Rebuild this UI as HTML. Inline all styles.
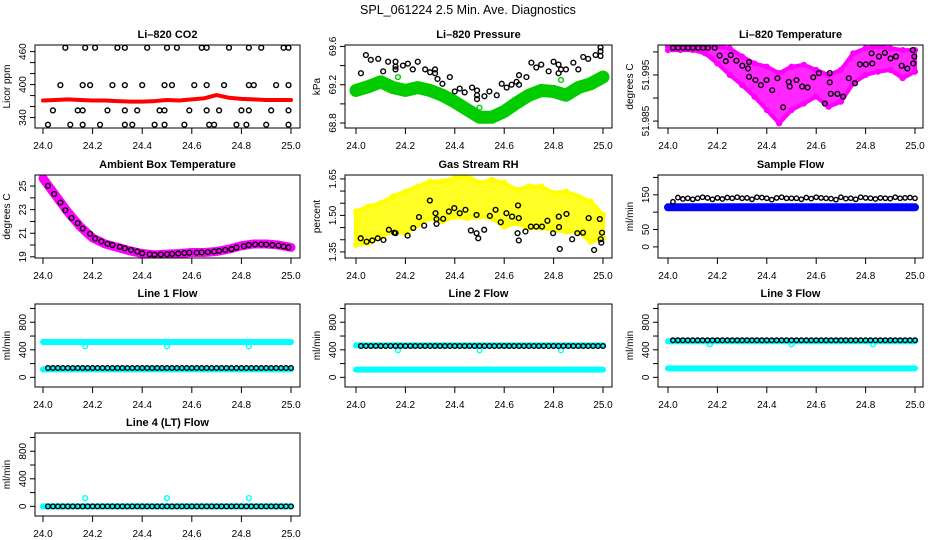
<!DOCTYPE html>
<html><head><meta charset="utf-8"><style>
html,body{margin:0;padding:0;background:#fff}
svg{display:block;font-family:"Liberation Sans",sans-serif}
</style></head><body>
<svg id="chart" width="936" height="540" viewBox="0 0 936 540" xmlns="http://www.w3.org/2000/svg">
<text x="468" y="14" text-anchor="middle" font-size="12.5">SPL_061224  2.5 Min. Ave. Diagnostics</text>
</svg>
<script>
// ---- data ----
const T21=[24.0,24.05,24.1,24.15,24.2,24.25,24.3,24.35,24.4,24.45,24.5,24.55,24.6,24.65,24.7,24.75,24.8,24.85,24.9,24.95,25.0];
const xTickVals=[24.0,24.2,24.4,24.6,24.8,25.0];
const xTickLabels=["24.0","24.2","24.4","24.6","24.8","25.0"];
// CO2
const co2RedVals=[371,372,373,372,371,371,370,369,369,370,372,371,373,375,381,376,374,373,372,372,372];
const co2BlackTimes=[24.09,24.17,24.21,24.30,24.33,24.42,24.50,24.54,24.64,24.66,24.75,24.83,24.88,24.97,24.99,
24.07,24.16,24.19,24.28,24.33,24.40,24.49,24.52,24.61,24.66,24.73,24.83,24.85,24.94,24.99,
24.04,24.14,24.16,24.26,24.33,24.38,24.47,24.49,24.59,24.66,24.71,24.80,24.83,24.92,24.99,
24.02,24.11,24.16,24.23,24.33,24.36,24.45,24.49,24.57,24.67,24.69,24.78,24.82,24.90,24.99];
const co2BlackVals=[467,467,467,467,467,467,467,467,467,467,467,467,467,467,467,
399,399,399,399,399,399,399,399,399,399,399,399,399,399,399,
353,353,353,353,353,353,353,353,353,353,353,353,353,353,353,
327,327,327,327,327,327,327,327,327,327,327,327,327,327,327];
// Pressure
const presGreenVals=[69.14,69.18,69.23,69.17,69.14,69.17,69.14,69.09,69.02,68.94,68.86,68.86,68.92,69.01,69.09,69.14,69.13,69.09,69.17,69.21,69.28];
const presGreenOutTimes=[24.17,24.5,24.83];
const presGreenOutVals=[69.28,68.96,69.25];
const presBlackTimes=[24.02,24.04,24.06,24.09,24.11,24.13,24.16,24.16,24.16,24.19,24.21,24.23,24.25,24.28,24.30,24.32,24.32,24.33,24.35,24.38,24.40,24.42,24.44,24.47,24.49,24.49,24.49,24.52,24.54,24.57,24.59,24.61,24.63,24.65,24.66,24.66,24.69,24.71,24.73,24.75,24.78,24.80,24.82,24.82,24.83,24.85,24.88,24.90,24.92,24.94,24.97,24.99,24.99,24.99];
const presBlackVals=[69.32,69.51,69.46,69.47,69.34,69.44,69.44,69.39,69.36,69.40,69.42,69.36,69.44,69.36,69.33,69.36,69.32,69.26,69.21,69.28,69.13,69.16,69.12,69.17,69.14,69.05,69.09,69.08,69.13,69.09,69.21,69.17,69.20,69.23,69.30,69.20,69.28,69.43,69.38,69.41,69.34,69.44,69.41,69.32,69.36,69.36,69.43,69.36,69.49,69.47,69.51,69.55,69.59,69.50];
// Licor temperature
const tempMagHi=[52.0012,52.0012,52.0012,52.0012,52.0012,52.0008,51.9990,51.9975,51.9968,51.9954,51.9968,51.9972,51.9961,51.9950,51.9961,51.9997,52.0008,52.0012,52.0008,52.0004,52.0004];
const tempMagLo=[52.0004,52.0004,52.0004,51.9997,51.9975,51.9950,51.9928,51.9903,51.9874,51.9845,51.9874,51.9888,51.9903,51.9881,51.9892,51.9932,51.9950,51.9957,51.9961,51.9943,51.9957];
const tempBlackTimes=[24.020,24.041,24.061,24.081,24.101,24.122,24.142,24.162,24.189,24.209,24.234,24.254,24.277,24.301,24.324,24.328,24.328,24.354,24.376,24.399,24.422,24.443,24.466,24.489,24.493,24.520,24.543,24.565,24.588,24.611,24.635,24.655,24.655,24.659,24.686,24.709,24.732,24.757,24.777,24.801,24.824,24.827,24.854,24.878,24.901,24.923,24.946,24.969,24.991,24.993,24.997];
const tempBlackVals=[52.0009,52.0009,52.0009,52.0009,52.0009,52.0009,52.0009,52.0009,52.0009,51.9992,51.9980,51.9993,51.9981,51.9970,51.9964,51.9978,51.9946,51.9939,51.9928,51.9939,51.9917,51.9943,51.9880,51.9935,51.9925,51.9939,51.9925,51.9923,51.9945,51.9954,51.9888,51.9954,51.9934,51.9909,51.9909,51.9903,51.9943,51.9932,51.9973,51.9973,51.9997,51.9975,51.9990,51.9998,51.9986,51.9990,51.9970,51.9964,52.0004,51.9975,51.9990];
// Ambient box temperature
const ambMagVals=[25.66,24.23,22.80,21.57,20.60,20.09,19.80,19.51,19.28,19.17,19.23,19.28,19.37,19.37,19.45,19.66,19.94,20.09,20.09,20.00,19.80];
const ambBlackTimes=[24.02,24.045,24.07,24.09,24.115,24.14,24.16,24.19,24.21,24.235,24.26,24.28,24.31,24.33,24.355,24.38,24.40,24.43,24.45,24.475,24.50,24.52,24.545,24.57,24.59,24.62,24.64,24.665,24.69,24.71,24.735,24.76,24.78,24.81,24.83,24.855,24.88,24.90,24.925,24.95,24.97,24.99];
const ambBlackVals=[25.02,24.33,23.60,22.95,22.30,21.85,21.40,20.95,20.55,20.30,20.10,20.00,19.85,19.72,19.58,19.45,19.30,19.22,19.18,19.20,19.22,19.25,19.28,19.32,19.35,19.35,19.37,19.40,19.45,19.50,19.58,19.65,19.78,19.90,20.00,20.05,20.05,20.04,20.00,19.95,19.88,19.80];
// Gas stream RH
const rhYelHi=[1.516,1.536,1.550,1.578,1.598,1.619,1.639,1.639,1.653,1.660,1.633,1.646,1.633,1.605,1.619,1.619,1.591,1.598,1.578,1.557,1.502];
const rhYelLo=[1.379,1.386,1.413,1.434,1.427,1.461,1.489,1.475,1.495,1.489,1.495,1.489,1.454,1.468,1.448,1.448,1.441,1.434,1.434,1.392,1.406];
const rhBlackTimes=[24.019,24.043,24.066,24.088,24.111,24.133,24.155,24.160,24.209,24.232,24.255,24.276,24.299,24.322,24.326,24.326,24.353,24.376,24.398,24.420,24.443,24.465,24.488,24.488,24.495,24.519,24.542,24.565,24.586,24.609,24.632,24.654,24.656,24.659,24.659,24.686,24.708,24.730,24.753,24.775,24.798,24.821,24.822,24.825,24.852,24.875,24.896,24.919,24.942,24.964,24.987,24.991,24.993,24.996];
const rhBlackVals=[1.406,1.392,1.397,1.406,1.399,1.441,1.429,1.427,1.417,1.448,1.493,1.458,1.561,1.509,1.485,1.465,1.486,1.516,1.530,1.509,1.523,1.438,1.502,1.427,1.406,1.441,1.498,1.523,1.472,1.509,1.495,1.427,1.541,1.489,1.397,1.434,1.454,1.454,1.454,1.478,1.427,1.495,1.452,1.362,1.506,1.402,1.427,1.429,1.489,1.358,1.485,1.402,1.388,1.429];
// Sample flow
const sfBlueVals=[114,114,114,114,114,114,114,114,114,114,114,114,114,114,114,114,114,114,114,114,114];
const flowTimes=[24.02,24.04,24.06,24.08,24.10,24.12,24.14,24.16,24.18,24.20,24.22,24.24,24.26,24.28,24.30,24.32,24.34,24.36,24.38,24.40,24.42,24.44,24.46,24.48,24.50,24.52,24.54,24.56,24.58,24.60,24.62,24.64,24.66,24.68,24.70,24.72,24.74,24.76,24.78,24.80,24.82,24.84,24.86,24.88,24.90,24.92,24.94,24.96,24.98,25.00];
const sfBlackVals=[130,142,138,140,137,140,143,141,137,141,138,142,140,143,140,141,137,143,142,140,136,141,143,140,140,140,137,142,139,143,141,140,139,136,143,139,140,137,143,141,140,138,141,140,139,143,140,141,142,140];
// Line flows
const dipTimes=[24.17,24.5,24.83];
const l1CyanHi=[513,513,513,513,513,513,513,513,513,513,513,513,513,513,513,513,513,513,513,513,513];
const l1CyanLo=[116,116,116,116,116,116,116,116,116,116,116,116,116,116,116,116,116,116,116,116,116];
const l1Dip=[450,450,450];
const l1Black=[136,136,136,136,136,136,136,136,136,136,136,136,136,136,136,136,136,136,136,136,136,136,136,136,136,136,136,136,136,136,136,136,136,136,136,136,136,136,136,136,136,136,136,136,136,136,136,136,136,136];
const l2CyanHi=[465,465,465,465,465,465,465,465,465,465,465,465,465,465,465,465,465,465,465,465,465];
const l2CyanLo=[112,112,112,112,112,112,112,112,112,112,112,112,112,112,112,112,112,112,112,112,112];
const l2Dip=[393,393,393];
const l2Black=[455,455,455,455,455,455,455,455,455,455,455,455,455,455,455,455,455,455,455,455,455,455,455,455,455,455,455,455,455,455,455,455,455,455,455,455,455,455,455,455,455,455,455,455,455,455,455,455,455,455];
const l3CyanHi=[524,524,524,524,524,524,524,524,524,524,524,524,524,524,524,524,524,524,524,524,524];
const l3CyanLo=[131,131,131,131,131,131,131,131,131,131,131,131,131,131,131,131,131,131,131,131,131];
const l3Dip=[480,480,480];
const l3Black=[538,538,538,538,538,538,538,538,538,538,538,538,538,538,538,538,538,538,538,538,538,538,538,538,538,538,538,538,538,538,538,538,538,538,538,538,538,538,538,538,538,538,538,538,538,538,538,538,538,538];
const l4Cyan=[0,0,0,0,0,0,0,0,0,0,0,0,0,0,0,0,0,0,0,0,0];
const l4Dip=[120,120,120];
const l4Black=[0,0,0,0,0,0,0,0,0,0,0,0,0,0,0,0,0,0,0,0,0,0,0,0,0,0,0,0,0,0,0,0,0,0,0,0,0,0,0,0,0,0,0,0,0,0,0,0,0,0];
const flowTicks=[0,200,400,600,800,1000];
const flowLabels=["0","","400","","800",""];

// ---- drawing ----
const NS="http://www.w3.org/2000/svg";
const svg=document.getElementById('chart');
const COLS=[{l:35,r:300,x0:43,x1:291},{l:345,r:612,x0:356,x1:603},{l:658,r:923,x0:668,x1:915}];
const ROWS=[{t:45,b:128},{t:175,b:258},{t:304,b:387},{t:433,b:516}];
function el(tag,attrs,parent){const e=document.createElementNS(NS,tag);for(const k in attrs)e.setAttribute(k,attrs[k]);(parent||svg).appendChild(e);return e;}

function panel(name,ci,ri,title,ylab,ymin,ymax,yt,yl){
  const c=COLS[ci],r=ROWS[ri];
  const g=el('g',{});
  
  
  const sx=v=>c.x0+(v-24)*(c.x1-c.x0);
  const sy=v=>r.b-(v-ymin)/(ymax-ymin)*(r.b-r.t);
  const clipId='clip-'+name;
  const cp=el('clipPath',{id:clipId},g);
  el('rect',{x:c.l,y:r.t,width:c.r-c.l,height:r.b-r.t},cp);
  const plot=el('g',{'clip-path':'url(#'+clipId+')'},g);
  
  
  const box=el('rect',{x:c.l,y:r.t,width:c.r-c.l,height:r.b-r.t,fill:'none',stroke:'#000','stroke-width':1},g);
  
  
  const tt=el('text',{x:(c.l+c.r)/2,y:r.t-7,'text-anchor':'middle','font-size':11,'font-weight':'bold'},g);
  tt.textContent=title;
  
  
  const ylt=el('text',{transform:'translate('+(c.l-25)+','+((r.t+r.b)/2)+') rotate(-90)','text-anchor':'middle','font-size':10},g);
  ylt.textContent=ylab;
  
  
  const xa=el('g',{},g);
  
  
  xTickVals.forEach((v,i)=>{
    el('line',{x1:sx(v),x2:sx(v),y1:r.b,y2:r.b+6,stroke:'#000'},xa);
    const t=el('text',{x:sx(v),y:r.b+21,'text-anchor':'middle','font-size':10},xa);
    t.textContent=xTickLabels[i];
    
    
  });
  const ya=el('g',{},g);
  
  
  yt.forEach((v,i)=>{
    const y=sy(v); if(y<r.t-0.5||y>r.b+0.5) return;
    el('line',{x1:c.l-5,x2:c.l,y1:y,y2:y,stroke:'#000'},ya);
    if(yl[i]){
      const t=el('text',{transform:'translate('+(c.l-9)+','+y+') rotate(-90)','text-anchor':'middle','font-size':10},ya);
      t.textContent=yl[i];
      
      
    }
  });
  return {sx,sy,plot};
}
function pts(P,times,vals,color,name,r){
  const g=el('g',{fill:'none',stroke:color,'stroke-width':1.4},P.plot);
  
  
  times.forEach((t,i)=>{
    const c=el('circle',{cx:P.sx(t),cy:P.sy(vals[i]),r:r||2.4},g);
    
    
  });
}
function band(P,times,vals,color,w,name){
  const d=times.map((t,i)=>P.sx(t)+','+P.sy(vals[i])).join(' ');
  const p=el('polyline',{points:d,fill:'none',stroke:color,'stroke-width':w,'stroke-linejoin':'round','stroke-linecap':'round'},P.plot);
  
  
}
function cloud(P,times,hi,lo,color,name){
  const up=times.map((t,i)=>P.sx(t)+','+P.sy(hi[i]));
  const dn=times.map((t,i)=>P.sx(t)+','+P.sy(lo[i])).reverse();
  const p=el('polygon',{points:up.concat(dn).join(' '),fill:color,'fill-opacity':0.85,stroke:color,'stroke-width':4,'stroke-linejoin':'round'},P.plot);
  
  
}

// Panel 1: CO2
let P=panel('co2',0,0,'Li\u2013820 CO2','Licor ppm',321,472,[340,360,380,400,420,440,460],['340','','','400','','','460']);
band(P,T21,co2RedVals,'#ff0000',4,'co2-red-series');
pts(P,co2BlackTimes,co2BlackVals,'#000','co2-black-series');
// Panel 2: Pressure
P=panel('pressure',1,0,'Li\u2013820 Pressure','kPa',68.748,69.615,[68.8,69.0,69.2,69.4,69.6],['68.8','','69.2','','69.6']);
band(P,T21,presGreenVals,'#00cc00',13,'pressure-green-series');
pts(P,presGreenOutTimes,presGreenOutVals,'#00cc00','pressure-green-outliers');
pts(P,presBlackTimes,presBlackVals,'#000','pressure-black-series');
// Panel 3: Temperature
P=panel('licor-temp',2,0,'Li\u2013820 Temperature','degrees C',51.9835,52.0015,[51.985,51.990,51.995,52.000],['51.985','','51.995','']);
cloud(P,T21,tempMagHi,tempMagLo,'#ff00ff','licor-temp-magenta-cloud');
pts(P,T21,tempMagHi,'#ff00ff','licor-temp-magenta-upper');
pts(P,T21,tempMagLo,'#ff00ff','licor-temp-magenta-lower');
pts(P,tempBlackTimes,tempBlackVals,'#000','licor-temp-black-series');
// Panel 4: Ambient
P=panel('ambient-temp',0,1,'Ambient Box Temperature','degrees C',18.9,25.94,[19,20,21,22,23,24,25],['19','','21','','23','','25']);
band(P,T21,ambMagVals,'#ff00ff',9,'ambient-magenta-series');
pts(P,ambBlackTimes,ambBlackVals,'#000','ambient-black-series');
// Panel 5: RH
P=panel('gas-rh',1,1,'Gas Stream RH','percent',1.325,1.666,[1.35,1.40,1.45,1.50,1.55,1.60,1.65],['1.35','','','1.50','','','1.65']);
cloud(P,T21,rhYelHi,rhYelLo,'#ffff00','rh-yellow-cloud');
pts(P,T21,rhYelHi,'#ffff00','rh-yellow-upper');
pts(P,T21,rhYelLo,'#ffff00','rh-yellow-lower');
pts(P,rhBlackTimes,rhBlackVals,'#000','rh-black-series');
// Panel 6: Sample flow
P=panel('sample-flow',2,1,'Sample Flow','ml/min',-32,207,[0,50,100,150,200],['0','50','','150','']);
band(P,T21,sfBlueVals,'#0000ff',8,'sample-flow-blue-series');
pts(P,flowTimes,sfBlackVals,'#000','sample-flow-black-series',2.2);
// Line flows
function linePanel(name,ci,ri,title,hi,lo,dip,blk){
  const Q=panel(name,ci,ri,title,'ml/min',-140,1065,flowTicks,flowLabels);
  if(hi) band(Q,T21,hi,'#00ffff',6,name+'-cyan-upper');
  band(Q,T21,lo,'#00ffff',6,name+'-cyan-lower');
  pts(Q,dipTimes,dip,'#00ffff',name+'-cyan-outliers');
  pts(Q,flowTimes,blk,'#000',name+'-black-series',2.3);
}
linePanel('line1-flow',0,2,'Line 1 Flow',l1CyanHi,l1CyanLo,l1Dip,l1Black);
linePanel('line2-flow',1,2,'Line 2 Flow',l2CyanHi,l2CyanLo,l2Dip,l2Black);
linePanel('line3-flow',2,2,'Line 3 Flow',l3CyanHi,l3CyanLo,l3Dip,l3Black);
linePanel('line4-flow',0,3,'Line 4 (LT) Flow',null,l4Cyan,l4Dip,l4Black);
</script>
</body></html>
